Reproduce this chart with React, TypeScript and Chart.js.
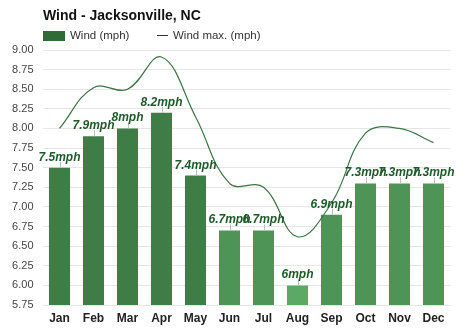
import React, { useEffect, useRef } from "react";
import { Chart, registerables } from "chart.js";

Chart.register(...registerables);

const months = ["Jan", "Feb", "Mar", "Apr", "May", "Jun", "Jul", "Aug", "Sep", "Oct", "Nov", "Dec"];
const windAvg = [7.5, 7.9, 8, 8.2, 7.4, 6.7, 6.7, 6, 6.9, 7.3, 7.3, 7.3];
const windMax = [8.0, 8.52, 8.5, 8.91, 8.15, 7.3, 7.25, 6.62, 7.05, 7.94, 8.0, 7.82];
const barColors = [
  "#3f7d47", "#3f7d47", "#3f7d47", "#3f7d47", "#3f7d47",
  "#4e9457", "#4e9457", "#5ca865", "#4e9457", "#4e9457", "#4e9457", "#4e9457",
];
const yMin = 5.75;
const yMax = 9;
const yStep = 0.25;

const FONT = "'Liberation Sans', Arial, sans-serif";

const labelPlugin = {
  id: "barLabels",
  afterDatasetsDraw(chart: any) {
    const meta = chart.getDatasetMeta(0);
    const ctx = chart.ctx;
    ctx.save();
    meta.data.forEach((bar: any, i: number) => {
      const x = bar.x;
      const y = bar.y;
      ctx.strokeStyle = "#bdbdbd";
      ctx.lineWidth = 1;
      ctx.beginPath();
      ctx.moveTo(Math.round(x) + 0.5, y);
      ctx.lineTo(Math.round(x) + 0.5, y - 6);
      ctx.stroke();
      ctx.font = "italic bold 12px 'Liberation Sans', Arial, sans-serif";
      ctx.fillStyle = "#1e5a28";
      ctx.textAlign = "center";
      ctx.textBaseline = "alphabetic";
      ctx.fillText(String(windAvg[i]) + "mph", x, y - 7);
    });
    ctx.restore();
  },
};

export default function App() {
  const ref = useRef<HTMLCanvasElement | null>(null);

  useEffect(() => {
    document.body.style.margin = "0";
    const canvas = ref.current;
    if (!canvas) return;
    const chart = new Chart(canvas, {
      type: "bar",
      data: {
        labels: months,
        datasets: [
          {
            type: "bar",
            label: "Wind (mph)",
            data: windAvg,
            backgroundColor: barColors,
            borderWidth: 0,
            barPercentage: 0.62,
            categoryPercentage: 1,
            order: 1,
          },
          {
            type: "line",
            label: "Wind max. (mph)",
            data: windMax,
            borderColor: "#3b7443",
            borderWidth: 1.2,
            pointRadius: 0,
            tension: 0.4,
            fill: false,
            order: 0,
          } as any,
        ],
      },
      plugins: [labelPlugin],
      options: {
        responsive: false,
        animation: false,
        layout: { padding: { top: 50, right: 23.5, left: 0, bottom: 0 } },
        plugins: {
          legend: { display: false },
          title: { display: false },
          tooltip: { enabled: false },
        },
        scales: {
          x: {
            grid: { display: false, drawTicks: false },
            border: { display: false },
            ticks: {
              color: "#222",
              font: { family: FONT, size: 12, weight: "bold" },
              padding: 6,
            },
            afterFit(scale: any) {
              scale.height = 26;
            },
          },
          y: {
            min: yMin,
            max: yMax,
            grid: { color: "#e6e6e6", drawTicks: false },
            border: { display: false },
            ticks: {
              stepSize: yStep,
              color: "#444",
              font: { family: FONT, size: 11 },
              padding: 9,
              callback: (v: any) => Number(v).toFixed(2),
            },
            afterFit(scale: any) {
              scale.width = 42.5;
            },
          },
        },
      },
    });
    return () => chart.destroy();
  }, []);

  const legendText = { position: "absolute" as const, top: 29, fontSize: 11.5, lineHeight: "13px", color: "#333", whiteSpace: "nowrap" as const };

  return (
    <div style={{ position: "relative", width: 474, height: 331, fontFamily: FONT, background: "#fff" }}>
      <canvas ref={ref} width={474} height={331} style={{ position: "absolute", left: 0, top: 0 }} />
      <div
        style={{
          position: "absolute",
          left: 43,
          top: 7,
          fontSize: 14,
          fontWeight: "bold",
          color: "#111",
          lineHeight: "16px",
          whiteSpace: "nowrap",
        }}
      >
        Wind - Jacksonville, NC
      </div>
      <span style={{ position: "absolute", left: 43, top: 31, width: 22, height: 10, background: "#2e6b35" }} />
      <span style={{ ...legendText, left: 70 }}>Wind (mph)</span>
      <span style={{ position: "absolute", left: 157, top: 35, width: 11, height: 1, background: "#333" }} />
      <span style={{ ...legendText, left: 173 }}>Wind max. (mph)</span>
    </div>
  );
}
